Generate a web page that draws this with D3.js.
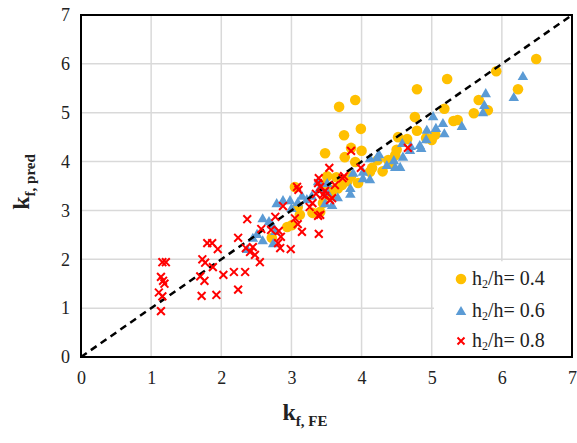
<!DOCTYPE html>
<html><head><meta charset="utf-8">
<script src="https://cdn.jsdelivr.net/npm/d3@7"></script>
<style>body{margin:0;background:#fff}svg{display:block}</style>
</head><body>
<script>
const xTicks = [0,1,2,3,4,5,6,7];
const yTicks = [0,1,2,3,4,5,6,7];
const seriesLabels = ["0.4","0.6","0.8"];
const h04 = [[6.49,6.10],[5.92,5.85],[5.22,5.69],[6.23,5.48],[5.67,5.26],[5.18,5.08],[5.31,4.83],[5.37,4.85],[5.60,4.99],[5.80,5.05],[4.79,5.48],[3.68,5.12],[3.91,5.26],[4.76,4.91],[3.99,4.67],[4.79,4.63],[3.75,4.54],[3.85,4.28],[4.00,4.22],[3.76,4.09],[4.52,4.50],[5.00,4.44],[4.92,4.48],[4.65,4.46],[4.50,4.24],[3.48,4.17],[3.51,3.70],[3.91,3.99],[4.15,3.87],[3.64,3.68],[3.72,3.52],[3.45,3.52],[3.59,3.42],[3.95,3.56],[4.12,3.79],[4.23,4.03],[4.38,4.03],[4.48,4.13],[3.05,3.48],[3.09,3.07],[3.01,2.70],[2.94,2.66],[3.45,3.15],[3.41,2.97],[3.30,2.95],[3.12,2.91],[2.72,2.44],[3.80,3.60],[3.66,3.45],[4.30,3.80],[4.42,3.95],[3.55,3.30],[3.85,3.70],[5.05,4.55]];
const h06 = [[6.30,5.75],[6.17,5.32],[5.77,5.40],[5.75,5.16],[5.73,5.01],[5.16,4.79],[5.18,4.58],[5.43,4.73],[5.02,4.93],[5.06,4.69],[4.93,4.65],[4.92,4.46],[4.85,4.28],[4.58,4.38],[4.69,4.24],[4.70,4.32],[4.83,4.34],[4.59,4.10],[4.46,4.03],[4.36,3.93],[4.48,3.89],[4.55,3.89],[4.25,4.15],[4.12,4.07],[4.22,4.09],[3.88,3.77],[4.02,3.66],[4.12,3.64],[4.02,3.79],[3.84,3.46],[3.84,3.34],[3.66,3.27],[3.51,3.38],[3.58,3.11],[3.38,3.60],[3.51,3.56],[3.48,3.15],[3.29,3.30],[3.15,3.30],[3.09,3.17],[3.22,3.23],[2.98,3.21],[2.88,3.21],[2.79,3.15],[2.59,2.84],[2.68,2.78],[2.72,2.72],[2.77,2.58],[2.51,2.52],[2.45,2.44],[2.74,2.33],[2.59,2.39],[2.37,2.21],[3.00,3.05],[3.40,3.45]];
const h08 = [[1.16,1.94],[1.21,1.94],[1.14,1.64],[1.17,1.56],[1.19,1.50],[1.11,1.32],[1.16,1.24],[1.14,0.94],[1.73,2.00],[1.77,1.93],[1.70,1.65],[1.76,1.56],[1.72,1.25],[1.93,1.27],[2.03,1.68],[2.18,1.74],[2.24,1.38],[1.80,2.33],[1.87,2.33],[1.95,2.21],[1.88,1.84],[2.24,2.44],[2.35,2.23],[2.45,2.25],[2.41,2.15],[2.48,2.09],[2.55,1.94],[2.37,2.82],[2.34,1.74],[2.57,2.62],[2.71,2.60],[2.82,2.58],[2.85,2.46],[2.81,2.33],[2.77,2.87],[2.88,3.09],[3.05,2.84],[3.09,2.72],[3.15,2.56],[3.39,2.52],[2.84,2.23],[2.99,2.21],[3.08,3.48],[3.10,3.42],[3.26,3.07],[3.30,3.15],[3.38,2.89],[3.35,3.34],[3.45,3.32],[3.39,3.66],[3.38,3.56],[3.48,3.40],[3.62,3.52],[3.41,3.48],[3.48,3.30],[3.55,3.21],[3.41,2.91],[3.54,3.87],[3.73,3.66],[3.75,3.70],[3.85,4.22],[3.99,3.87],[4.66,4.28],[3.58,3.25]];

const W = 577, H = 443;
const m = {l:81, r:5, t:15, b:86};
const svg = d3.select("body").append("svg").attr("width",W).attr("height",H);
const x = d3.scaleLinear().domain([0,7]).range([m.l, W-m.r]);
const y = d3.scaleLinear().domain([0,7]).range([H-m.b, m.t]);
const serif = "'Liberation Serif','Times New Roman',serif";
const YEL="#FFC000", BLU="#5B9BD5", RED="#FF0000";

// gridlines
svg.append("g").selectAll("line").data(xTicks.slice(1,-1)).join("line")
  .attr("x1",d=>x(d)).attr("x2",d=>x(d)).attr("y1",y(0)).attr("y2",y(7))
  .attr("stroke","#d9d9d9").attr("stroke-width",1.5);
svg.append("g").selectAll("line").data(yTicks.slice(1,-1)).join("line")
  .attr("y1",d=>y(d)).attr("y2",d=>y(d)).attr("x1",x(0)).attr("x2",x(7))
  .attr("stroke","#d9d9d9").attr("stroke-width",1.5);

// axes (labels only)
const xa = svg.append("g").attr("transform",`translate(0,${y(0)})`)
  .call(d3.axisBottom(x).tickValues(xTicks).tickSize(0).tickPadding(14).tickFormat(d3.format("d")));
const ya = svg.append("g").attr("transform",`translate(${x(0)},0)`)
  .call(d3.axisLeft(y).tickValues(yTicks).tickSize(0).tickPadding(11).tickFormat(d3.format("d")));
[xa,ya].forEach(a=>{a.select(".domain").remove();
  a.selectAll("text").attr("font-family",serif).attr("font-size",18).attr("fill","#222");});

const plot = svg.append("g");
plot.selectAll("circle").data(h04).join("circle")
  .attr("cx",d=>x(d[0])).attr("cy",d=>y(d[1])).attr("r",5.3).attr("fill",YEL);
const tri = d3.symbol().type(d3.symbolTriangle).size(48);
plot.selectAll("path.t").data(h06).join("path").attr("class","t")
  .attr("d",tri).attr("transform",d=>`translate(${x(d[0])},${y(d[1])+1})`).attr("fill",BLU);

// diagonal
svg.append("line").attr("x1",x(0)).attr("y1",y(0)).attr("x2",x(7)).attr("y2",y(7))
  .attr("stroke","#000").attr("stroke-width",2.5).attr("stroke-dasharray","7,5");

const cross = (s)=>`M${-s},${-s}L${s},${s}M${-s},${s}L${s},${-s}`;
svg.append("g").selectAll("path").data(h08).join("path")
  .attr("d",cross(3.9)).attr("transform",d=>`translate(${x(d[0])},${y(d[1])})`)
  .attr("stroke",RED).attr("stroke-width",2).attr("fill","none");

// frame
svg.append("rect").attr("x",x(0)).attr("y",y(7)).attr("width",x(7)-x(0)).attr("height",y(0)-y(7))
  .attr("fill","none").attr("stroke","#000").attr("stroke-width",2);

// legend
const lg = svg.append("g");
lg.append("rect").attr("x",434).attr("y",y(2)+2).attr("width",x(7)-1-434).attr("height",y(0)-1-(y(2)+2)).attr("fill","#fff");
const rows = [279,311,341];
seriesLabels.forEach((lab,i)=>{
  const cy = rows[i];
  if(i===0) lg.append("circle").attr("cx",461).attr("cy",cy).attr("r",5.3).attr("fill",YEL);
  if(i===1) lg.append("path").attr("d",tri).attr("transform",`translate(461,${cy+1})`).attr("fill",BLU);
  if(i===2) lg.append("path").attr("d",cross(3.5)).attr("transform",`translate(461,${cy})`).attr("stroke",RED).attr("stroke-width",2);
  const t = lg.append("text").attr("x",472).attr("y",cy+6).attr("font-family",serif).attr("font-size",20).attr("fill","#222");
  t.append("tspan").text("h");
  t.append("tspan").attr("font-size",12).attr("dy",3).text("2");
  t.append("tspan").attr("dy",-3).text("/h= "+lab);
});

// axis titles
const xt = svg.append("text").attr("x",305).attr("y",420).attr("text-anchor","middle")
  .attr("font-family",serif).attr("font-weight","bold").attr("font-size",24).attr("fill","#222");
xt.append("tspan").text("k");
xt.append("tspan").attr("font-size",15).attr("dy",6).text("f, FE");
const yt = svg.append("text").attr("transform","translate(29,182) rotate(-90)").attr("text-anchor","middle")
  .attr("font-family",serif).attr("font-weight","bold").attr("font-size",24).attr("fill","#222");
yt.append("tspan").text("k");
yt.append("tspan").attr("font-size",15).attr("dy",6).text("f, pred");
</script>
</body></html>
